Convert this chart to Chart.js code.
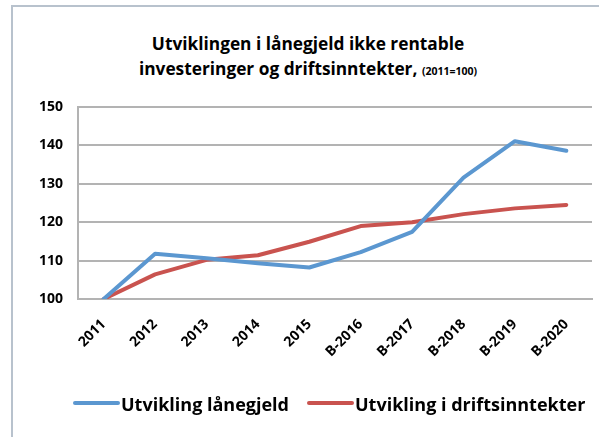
<!DOCTYPE html>
<html>
<head>
<meta charset="utf-8">
<script src="https://cdn.jsdelivr.net/npm/chart.js@4.4.1/dist/chart.umd.min.js"></script>
<style>
  body { margin: 0; background: #fff; }
  #wrap { position: relative; width: 599px; height: 437px; overflow: hidden; font-family: 'Open Sans', sans-serif; }
  #ramme { position: absolute; left: 11px; top: 5px; width: 700px; height: 500px; border: 2px solid #b8c2cd; box-sizing: border-box; }
  #tittel { position: absolute; left: 11px; width: 594px; top: 31px; text-align: center; font-weight: 700; font-size: 17.3px; line-height: 25px; color: #000; }
  #tittel small { font-size: 10.5px; }
  canvas { position: absolute; left: 0; top: 0; }
  .forklaring { position: absolute; top: 391px; font-weight: 700; font-size: 18px; line-height: 26px; color: #000; white-space: nowrap; }
  .strek { position: absolute; top: 401px; height: 4px; border-radius: 2px; }
</style>
</head>
<body>
<div id="wrap">
  <div id="ramme"></div>
  <div id="tittel">Utviklingen i lånegjeld ikke rentable<br>investeringer og driftsinntekter, <small>(2011=100)</small></div>
  <canvas id="graf" width="599" height="437"></canvas>
  <div id="strek0" class="strek" style="left:73px;width:47px"></div>
  <div id="tekst0" class="forklaring" style="left:121px"></div>
  <div id="strek1" class="strek" style="left:307px;width:47px"></div>
  <div id="tekst1" class="forklaring" style="left:355px"></div>
</div>
<script>
// data lest av figuren
const aar = ['2011', '2012', '2013', '2014', '2015', 'B-2016', 'B-2017', 'B-2018', 'B-2019', 'B-2020'];
const laanegjeld = [100, 111.8, 110.6, 109.3, 108.2, 112.2, 117.5, 131.6, 141.1, 138.6];
const driftsinntekter = [100, 106.4, 110.2, 111.4, 114.9, 119.0, 120.0, 122.1, 123.6, 124.5];
const yTicks = [100, 110, 120, 130, 140, 150];

const blaa = '#5b97d0';
const roed = '#c9534f';
const grid = '#b3b3b3';
const skrift = 'Open Sans, sans-serif';

var ctx = document.getElementById('graf').getContext('2d');
var graf = new Chart(ctx, {
    type: 'line',
    data: {
        labels: aar,
        datasets: [{
                label: 'Utvikling lånegjeld',
                data: laanegjeld,
                borderColor: blaa,
                backgroundColor: blaa,
                borderWidth: 4,
                pointRadius: 0,
                tension: 0,
                borderJoinStyle: 'round',
                borderCapStyle: 'round'
            },
            {
                label: 'Utvikling i driftsinntekter',
                data: driftsinntekter,
                borderColor: roed,
                backgroundColor: roed,
                borderWidth: 4,
                pointRadius: 0,
                tension: 0,
                borderJoinStyle: 'round',
                borderCapStyle: 'round'
            }
        ]
    },
    options: {
        responsive: false,
        animation: false,
        layout: { padding: { top: 107, right: 7, left: 0, bottom: 58 } },
        plugins: {
            title: { display: false },
            tooltip: { enabled: false },
            legend: { display: false }
        },
        scales: {
            x: {
                offset: true,
                grid: { display: false, drawTicks: false },
                border: { display: true, color: grid, width: 2 },
                ticks: {
                    autoSkip: false,
                    maxRotation: 45,
                    minRotation: 45,
                    padding: 17,
                    color: '#000',
                    font: { family: skrift, weight: 700, size: 14 }
                },
                afterFit: function (scale) { scale.height = 80; }
            },
            y: {
                min: 100,
                max: 150,
                afterBuildTicks: function (scale) {
                    scale.ticks = yTicks.map(function (v) { return { value: v }; });
                },
                grid: { color: grid, lineWidth: 2, drawTicks: false },
                border: { display: true, color: grid, width: 2 },
                ticks: {
                    padding: 15,
                    color: '#000',
                    font: { family: skrift, weight: 700, size: 14 }
                },
                afterFit: function (scale) { scale.width = 78; }
            }
        }
    }
});

// forklaring (legend) bygget fra datasettene
graf.data.datasets.forEach(function (ds, i) {
    document.getElementById('strek' + i).style.background = ds.borderColor;
    document.getElementById('tekst' + i).textContent = ds.label;
});
</script>
</body>
</html>
